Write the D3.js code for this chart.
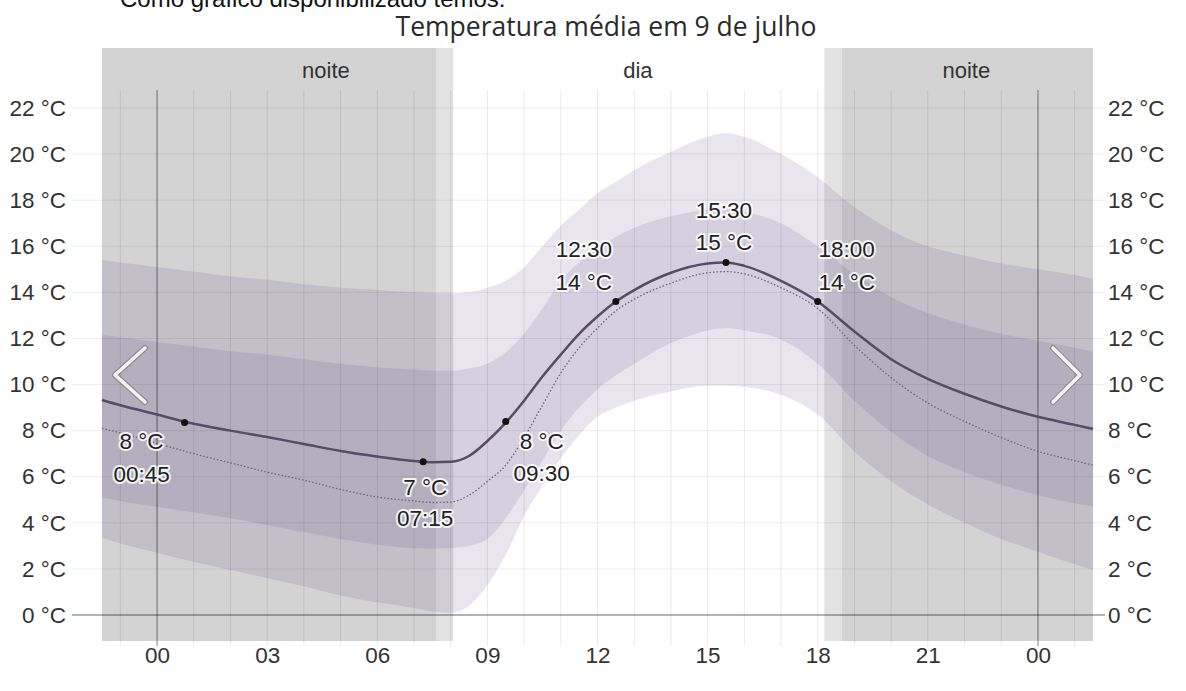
<!DOCTYPE html>
<html><head><meta charset="utf-8">
<script src="https://cdn.jsdelivr.net/npm/d3@7"></script>
<style>
body{margin:0;background:#fff;}
svg{display:block;}
</style></head>
<body>
<svg id="chart" width="1186" height="691"></svg>
<script>
// ---------- data ----------
const hours   = [-1.5,-1,0,1,2,3,4,5,6,7,7.5,8,8.5,9,9.5,10,10.5,11,11.5,12,12.5,13,14,15,15.5,16,17,18,19,20,21,22,23,24,25,25.5];
const meanTemp= [9.33,9.1,8.7,8.3,8.0,7.72,7.42,7.12,6.88,6.68,6.63,6.65,6.9,7.55,8.35,9.3,10.35,11.3,12.2,12.95,13.6,14.1,14.85,15.25,15.3,15.15,14.5,13.6,12.3,11.1,10.25,9.6,9.05,8.6,8.25,8.07];
const dottedTemp=[8.1,7.9,7.45,7.0,6.6,6.2,5.85,5.45,5.12,4.95,4.88,4.9,5.2,5.8,6.5,7.7,9.1,10.5,11.6,12.45,13.2,13.7,14.4,14.85,14.9,14.8,14.2,13.3,11.7,10.3,9.2,8.4,7.7,7.1,6.7,6.5];
const p90     = [15.4,15.3,15.1,14.9,14.7,14.55,14.35,14.2,14.1,14.0,13.97,13.95,14.0,14.2,14.5,15.1,16.0,16.9,17.6,18.3,18.8,19.3,20.1,20.75,20.9,20.75,20.0,19.0,17.7,16.7,16.0,15.6,15.25,15.0,14.75,14.6];
const p75     = [12.15,12.05,11.85,11.65,11.45,11.3,11.1,10.9,10.75,10.65,10.6,10.6,10.7,10.9,11.4,12.2,13.3,14.5,15.3,15.9,16.4,16.8,17.3,17.6,17.65,17.5,17.0,16.0,14.8,13.8,13.1,12.6,12.2,11.9,11.6,11.45];
const p25     = [5.1,4.95,4.7,4.45,4.2,3.9,3.6,3.3,3.05,2.9,2.88,2.9,3.0,3.3,4.2,5.4,6.7,8.0,9.0,9.8,10.4,10.9,11.8,12.35,12.45,12.35,11.95,10.9,9.3,7.95,6.9,6.2,5.65,5.2,4.85,4.7];
const p10     = [3.35,3.1,2.7,2.3,1.95,1.6,1.25,0.85,0.55,0.3,0.15,0.1,0.4,1.3,2.6,4.3,5.6,6.8,7.8,8.6,9.0,9.3,9.7,9.95,9.95,9.9,9.55,8.7,7.1,5.8,4.8,4.0,3.3,2.75,2.2,1.95];

const pointHours = [0.75, 7.25, 9.5, 12.5, 15.5, 18];
const pointTimes = ["00:45","07:15","09:30","12:30","15:30","18:00"];
const pointTemps = [8.35, 6.65, 8.4, 13.6, 15.3, 13.6];

const spanStart = [-1.5, 7.6, 18.18, 18.66];
const spanEnd   = [7.6, 8.07, 18.66, 25.5];
const spanKind  = ["night","twilight","twilight","night"];

const periodLabels = ["noite","dia","noite"];
const periodHours  = [4.6, 13.1, 22.05];

const yTicks = [0,2,4,6,8,10,12,14,16,18,20,22];
const xTicks = [0,3,6,9,12,15,18,21,24];
const xTickLabels = ["00","03","06","09","12","15","18","21","00"];

const titleText = "Temperatura média em 9 de julho";
const introText = "Como gráfico disponibilizado temos:";

// ---------- layout ----------
const svg = d3.select("#chart");
const x = d3.scaleLinear().domain([-1.5, 25.5]).range([102, 1093]);
const y = d3.scaleLinear().domain([0, 22]).range([615, 108]);
const font = "'Liberation Sans', Arial, sans-serif";
const rectTop = 48, rectBottom = 641;
const fs = 22.5;

// intro text (cut off at top, as in the source screenshot)
svg.append("text").attr("x",120).attr("y",7).attr("font-family",font).attr("font-size",24)
  .attr("fill","#111").text(introText);
// title
svg.append("text").attr("x",606).attr("y",36).attr("text-anchor","middle")
  .attr("font-family","'Open Sans', sans-serif").attr("font-size",26.5).attr("fill","#2a2a2a").text(titleText);

// night / twilight rects
svg.append("g").selectAll("rect").data(spanStart).join("rect")
  .attr("x", (d)=>x(d)).attr("width",(d,i)=>x(spanEnd[i])-x(d))
  .attr("y",rectTop).attr("height",rectBottom-rectTop)
  .attr("fill",(d,i)=> spanKind[i]==="night" ? "#d3d3d3" : "#e3e3e3");

// period labels
svg.append("g").selectAll("text").data(periodLabels).join("text")
  .attr("x",(d,i)=>x(periodHours[i])).attr("y",78).attr("text-anchor","middle")
  .attr("font-family",font).attr("font-size",22).attr("fill","#333").text(d=>d);

// bands
const areaOuter = d3.area().x((d,i)=>x(hours[i])).y0((d,i)=>y(p10[i])).y1((d,i)=>y(p90[i])).curve(d3.curveMonotoneX);
const areaInner = d3.area().x((d,i)=>x(hours[i])).y0((d,i)=>y(p25[i])).y1((d,i)=>y(p75[i])).curve(d3.curveMonotoneX);
svg.append("path").datum(hours).attr("d",areaOuter).attr("fill","rgb(100,80,140)").attr("fill-opacity",0.15);
svg.append("path").datum(hours).attr("d",areaInner).attr("fill","rgb(100,80,140)").attr("fill-opacity",0.14);

// grid: vertical hourly
const hourGrid = d3.range(-1, 26);
svg.append("g").selectAll("line").data(hourGrid).join("line")
  .attr("x1",d=>x(d)).attr("x2",d=>x(d)).attr("y1",90).attr("y2",646)
  .attr("stroke", d => (d===0||d===24) ? "rgba(0,0,0,0.35)" : "rgba(0,0,0,0.09)")
  .attr("stroke-width", d => (d===0||d===24) ? 1.4 : 1);
// horizontal
svg.append("g").selectAll("line").data(yTicks).join("line")
  .attr("x1",72).attr("x2",1105).attr("y1",d=>y(d)).attr("y2",d=>y(d))
  .attr("stroke", d => d===0 ? "rgba(0,0,0,0.4)" : "rgba(0,0,0,0.07)")
  .attr("stroke-width", d => d===0 ? 1.4 : 1);

// lines
const lineMean = d3.line().x((d,i)=>x(hours[i])).y((d)=>y(d)).curve(d3.curveMonotoneX);
svg.append("path").datum(dottedTemp).attr("d",lineMean).attr("fill","none")
  .attr("stroke","#6a6278").attr("stroke-width",1.3).attr("stroke-dasharray","1.5,2");
svg.append("path").datum(meanTemp).attr("d",lineMean).attr("fill","none")
  .attr("stroke","#564c66").attr("stroke-width",2.5);

// axis labels
const yAxisL = d3.axisLeft(y).tickValues(yTicks).tickSize(0).tickPadding(0).tickFormat(d=>d+" °C");
const gL = svg.append("g").attr("transform","translate(66,0)").call(yAxisL);
const yAxisR = d3.axisRight(y).tickValues(yTicks).tickSize(0).tickPadding(0).tickFormat(d=>d+" °C");
const gR = svg.append("g").attr("transform","translate(1108,0)").call(yAxisR);
const xAxis = d3.axisBottom(x).tickValues(xTicks).tickSize(0).tickPadding(0).tickFormat((d,i)=>xTickLabels[i]);
const gX = svg.append("g").attr("transform","translate(0,642)").call(xAxis);
[gL,gR,gX].forEach(g=>{
  g.select(".domain").remove();
  g.selectAll("text").attr("font-family",font).attr("font-size",fs).attr("fill","#333");
});
gX.selectAll("text").attr("dy","0.95em");

// chevrons
const chev = [[[145,348],[115,375],[145,402]],[[1053,348],[1080,375],[1053,402]]];
chev.forEach(c=>{
  const p = d3.line()(c);
  svg.append("path").attr("d",p).attr("fill","none").attr("stroke","rgba(120,120,120,0.6)").attr("stroke-width",6).attr("stroke-linecap","round").attr("stroke-linejoin","round");
  svg.append("path").attr("d",p).attr("fill","none").attr("stroke","#f4f4f4").attr("stroke-width",3.5).attr("stroke-linecap","round").attr("stroke-linejoin","round");
});

// points & labels
const labelOffsets = [[-43,18,51],[2,25,56],[36,20,52],[-32,-53,-20],[-2,-52,-20],[29,-53,-20]];
const labelOrderTimeFirst = [false,false,false,true,true,true];
svg.append("g").selectAll("circle").data(pointHours).join("circle")
  .attr("cx",d=>x(d)).attr("cy",(d,i)=>y(pointTemps[i])).attr("r",3.5).attr("fill","#111");
const lg = svg.append("g");
pointHours.forEach((h,i)=>{
  const px = x(h), py = y(pointTemps[i]);
  const o = labelOffsets[i];
  const tempStr = Math.round(pointTemps[i]) + " °C";
  const lines = labelOrderTimeFirst[i] ? [pointTimes[i], tempStr] : [tempStr, pointTimes[i]];
  lines.forEach((t,k)=>{
    lg.append("text").attr("x",px+o[0]).attr("y",py+o[k+1]+8).attr("text-anchor","middle")
      .attr("font-family",font).attr("font-size",fs).attr("fill","#222")
      .attr("stroke","rgba(255,255,255,0.85)").attr("stroke-width",4).attr("stroke-linejoin","round")
      .attr("paint-order","stroke").text(t);
  });
});
</script>
</body></html>
